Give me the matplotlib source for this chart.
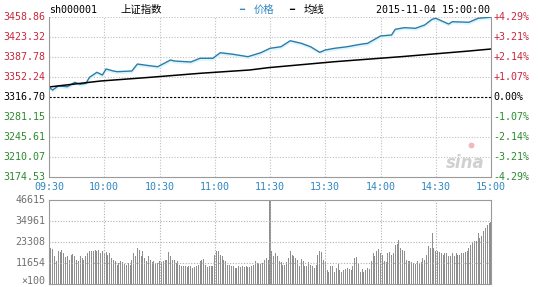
import numpy as np
import matplotlib
matplotlib.use("Agg")
from matplotlib import pyplot as plt

# -----------------------------------------------
# DATA (2015-11-04)

prev_close = 3316.70

price_ticks = [3174.53, 3210.07, 3245.61, 3281.15, 3316.70,
               3352.24, 3387.78, 3423.32, 3458.86]
pct_labels = ["-4.29%", "-3.21%", "-2.14%", "-1.07%", "0.00%",
              "+1.07%", "+2.14%", "+3.21%", "+4.29%"]
time_labels = ["09:30", "10:00", "10:30", "11:00", "11:30",
               "13:30", "14:00", "14:30", "15:00"]
vol_ticks = [11654, 23308, 34961, 46615]

# minute index (0 = 09:30, 120 = 11:30/13:00, 240 = 15:00)
price_min = [0, 2, 5, 10, 14, 17, 20, 22, 26, 29, 31, 35, 37, 45, 48, 53, 59,
             66, 68, 77, 82, 89, 93, 100, 108, 115, 120, 126, 131, 137, 142,
             147, 150, 155, 162, 169, 173, 180, 186, 188, 193, 199, 204, 208,
             210, 217, 219, 228, 233, 240]
price = [3333.9, 3329.1, 3336.3, 3335.0, 3342.8, 3339.3, 3341.0, 3351.7,
         3360.6, 3355.8, 3366.5, 3362.9, 3361.7, 3362.9, 3375.3, 3373.0,
         3370.5, 3382.5, 3380.7, 3378.9, 3385.5, 3385.5, 3395.4, 3392.6,
         3388.3, 3395.4, 3403.2, 3406.1, 3416.7, 3412.1, 3406.1, 3396.1,
         3400.2, 3403.2, 3406.1, 3410.3, 3412.1, 3425.1, 3426.9, 3437.0,
         3439.9, 3438.8, 3444.7, 3454.8, 3456.6, 3446.4, 3450.5, 3449.5,
         3456.6, 3458.6]

avg_min = [0, 28, 55, 82, 109, 119, 155, 191, 228, 240]
avg_price = [3334.5, 3345.1, 3351.7, 3358.8, 3364.7, 3368.8, 3379.4,
             3388.3, 3398.4, 3402.0]

# volume per minute (x100), 241 values
volume = [
    34800, 20000, 19500, 15700, 12700, 18100, 17600, 18700, 17200, 14800, 15400,
    13100, 16300, 16800, 15400, 13500, 12900, 15700, 14400, 13500, 15400, 17200, 18100,
    18100, 18100, 18700, 18100, 19100, 17200, 18100, 17200, 17600, 16300, 17200, 14400,
    13500, 12600, 10700, 11700, 12600, 12000, 11300, 10700,
    11700, 10700, 13500, 17200, 15400, 20000, 19100, 15400, 18100, 14400, 12600, 15400,
    13100, 12000, 12600, 11300, 11700, 12600, 12000, 12600, 13500, 13100, 17600, 15400,
    13100, 13500, 11700, 12600, 10700, 9800, 10200, 9800, 9400, 10200, 9800, 8900,
    9400, 9800, 10700, 12600, 13500, 13900, 10700, 9400, 9800, 9800,
    9800, 16300, 18100, 18100, 16300, 15400, 13500, 12600, 10700, 10700, 10200, 9800,
    8900, 8900, 9800, 9400, 9800, 9400, 9800, 9400, 9400, 9800, 10700, 12600, 11700,
    11700, 11300, 11700, 13500, 14400, 13500,
    46000,
    18100, 15400, 17200, 15400, 12600, 12000, 10700, 10700, 12000,
    14400, 18100, 16300, 15400, 14400, 13500, 9800, 13900, 12600,
    10200, 9800, 12000, 10700, 9800, 8900, 10700, 16300, 18100,
    17600, 13500, 12600, 7800, 6900, 9800, 10200, 6900, 8900,
    11300, 7800, 6900, 7800, 8200, 8900, 8200, 7800, 9800,
    14400, 15000, 11700, 6900, 8200, 6900, 7800, 8900, 8200,
    12600, 17200, 15400, 18100, 19500, 17000, 16300, 12600, 12000,
    17200, 17600, 16300, 17200, 21800, 22400, 24600, 20000, 19100,
    18100, 13500, 12600, 12600, 12000, 11700, 11300, 12600, 11700,
    12000, 14400, 13500, 16300, 20900, 20000, 28300, 20000, 18100,
    18100, 17600, 17000, 16300, 17200, 17000, 15700, 15400, 17200,
    15400, 17000, 16300, 16300,
    17000, 17200, 17600, 18100,
    20000, 21800, 23100, 23700, 23700, 28300, 25500, 26400, 29200, 31000, 32800,
    33700, 34500]

# -----------------------------------------------
# STYLE

MONO = "DejaVu Sans Mono"
CJK = ["Noto Sans CJK SC", "DejaVu Sans"]
FS = 7.2
RED = "#c8283c"
GREEN = "#2d8a2d"
BLUE = "#2f86c0"
GRAY = "#9a9a9a"
LINE = "#2b7ba8"

fig = plt.figure(figsize=(5.38, 2.87), dpi=100)
ax = fig.add_axes([49 / 538, 1 - 177 / 287, 442 / 538, 160 / 287])
axv = fig.add_axes([49 / 538, 1 - 284 / 287, 442 / 538, 84 / 287])

# -----------------------------------------------
# PRICE PANEL
ax.fill_between(price_min, price, np.array(price) - 3.5, color="#d9f5fd", lw=0)
ax.plot(price_min, price, color=LINE, lw=1.0)
ax.plot(avg_min, avg_price, color="black", lw=1.1)
ax.axhline(prev_close, color="black", lw=0.8, ls=(0, (2, 1.5)))

ax.set_xlim(0, 240)
ax.set_ylim(price_ticks[0], price_ticks[-1])
ax.set_xticks([])
ax.set_yticks([])
for v in price_ticks[1:]:
    if v != prev_close:
        ax.axhline(v, color="#c0c0c0", lw=0.8, ls=(0, (1, 1.5)), zorder=0)
for t in range(30, 240, 30):
    ax.axvline(t, color="#c0c0c0", lw=0.8, ls=(0, (1, 1.5)), zorder=0)
for s in ["left", "right", "bottom"]:
    ax.spines[s].set_color(GRAY)
ax.spines["top"].set_visible(False)

for i, v in enumerate(price_ticks):
    c = "black" if i == 4 else (RED if i > 4 else GREEN)
    ax.text(-0.008, v, "%.2f" % v, transform=ax.get_yaxis_transform(),
            ha="right", va="center", fontsize=FS, family=MONO, color=c)
    ax.text(1.006, v, pct_labels[i], transform=ax.get_yaxis_transform(),
            ha="left", va="center", fontsize=FS, family=MONO, color=c)

for i, lab in enumerate(time_labels):
    ax.text(i * 30, -0.06, lab, transform=ax.get_xaxis_transform(),
            ha="center", va="center", fontsize=FS, family=MONO, color=BLUE)

# header
fig.text(49 / 538, 1 - 10 / 287, "sh000001", ha="left", va="center",
         fontsize=FS, family=MONO, color="black")
fig.text(120 / 538, 1 - 10 / 287, "上证指数", ha="left", va="center",
         fontsize=7.5, family=CJK, color="black")
fig.text(239 / 538, 1 - 9 / 287, "━", ha="left", va="center",
         fontsize=6, family="DejaVu Sans", color=BLUE)
fig.text(254 / 538, 1 - 10 / 287, "价格", ha="left", va="center",
         fontsize=7.5, family=CJK, color=BLUE)
fig.text(289 / 538, 1 - 9 / 287, "━", ha="left", va="center",
         fontsize=6, family="DejaVu Sans", color="black")
fig.text(304 / 538, 1 - 10 / 287, "均线", ha="left", va="center",
         fontsize=7.5, family=CJK, color="black")
fig.text(490 / 538, 1 - 10 / 287, "2015-11-04 15:00:00", ha="right",
         va="center", fontsize=FS, family=MONO, color="black")

# sina watermark
ax.text(0.985, 0.09, "sina", transform=ax.transAxes, ha="right", va="center",
        fontsize=12, style="italic", fontweight="bold", color="#d0d0d0",
        family="DejaVu Sans")
ax.scatter([0.955], [0.2], transform=ax.transAxes, s=18, color="#f3b8b8",
           lw=0)

# -----------------------------------------------
# VOLUME PANEL
axv.bar(np.arange(len(volume)), volume, width=0.55, color="#8e8e8e", lw=0)
axv.set_xlim(0, 240)
axv.set_ylim(0, vol_ticks[-1])
axv.set_xticks([])
axv.set_yticks([])
for v in vol_ticks[:-1]:
    axv.axhline(v, color="#b0b0b0", lw=0.8, ls=(0, (1, 1.5)), zorder=3)
for t in range(30, 240, 30):
    axv.axvline(t, color="#b0b0b0", lw=0.8, ls=(0, (1, 1.5)), zorder=3)
for s in axv.spines.values():
    s.set_color(GRAY)
for v in vol_ticks:
    axv.text(-0.008, v, "%d" % v, transform=axv.get_yaxis_transform(),
             ha="right", va="center", fontsize=FS, family=MONO, color="#707070")
fig.text(45 / 538, 1 - 281 / 287, "×100", ha="right", va="center",
         fontsize=FS, family=MONO, color="#707070")

fig.savefig("out.png", dpi=100)
